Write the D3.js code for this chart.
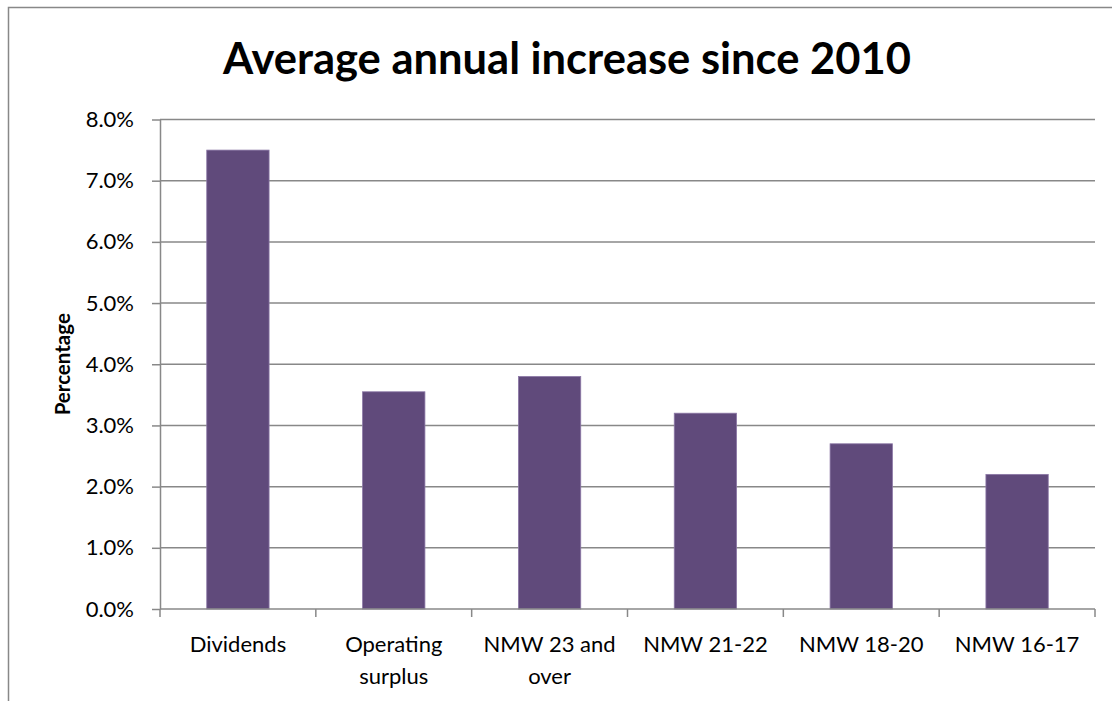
<!DOCTYPE html>
<html>
<head>
<meta charset="utf-8">
<script src="https://cdn.jsdelivr.net/npm/d3@7"></script>
<style>
  html, body { margin: 0; padding: 0; background: #fff; }
  svg { display: block; }
</style>
</head>
<body>
<svg id="chart" width="1112" height="701"></svg>
<script>
const categories = ["Dividends", "Operating surplus", "NMW 23 and over", "NMW 21-22", "NMW 18-20", "NMW 16-17"];
const categoryLines = [["Dividends"], ["Operating", "surplus"], ["NMW 23 and", "over"], ["NMW 21-22"], ["NMW 18-20"], ["NMW 16-17"]];
const values = [7.5, 3.55, 3.8, 3.2, 2.7, 2.2];
const yTicks = [0, 1, 2, 3, 4, 5, 6, 7, 8];
const titleText = "Average annual increase since 2010";
const yAxisTitle = "Percentage";

const font = "Lato, 'Open Sans', 'Noto Sans', sans-serif";
const svg = d3.select("#chart");
const plot = { left: 160, right: 1095, top: 119.5, bottom: 609 };
const gridColor = "#888888";

// outer chart frame
svg.append("rect")
  .attr("x", 8.5).attr("y", 7.5)
  .attr("width", 1200).attr("height", 800)
  .attr("fill", "none").attr("stroke", gridColor).attr("stroke-width", 1.5);

const x = d3.scaleBand().domain(categories).range([plot.left, plot.right]).paddingInner(0).paddingOuter(0);
const y = d3.scaleLinear().domain([0, 8]).range([plot.bottom, plot.top]);

// horizontal gridlines
svg.append("g").selectAll("line").data(yTicks.filter(d => d > 0)).join("line")
  .attr("x1", plot.left).attr("x2", plot.right)
  .attr("y1", d => y(d)).attr("y2", d => y(d))
  .attr("stroke", gridColor).attr("stroke-width", 1.5);

// bars
const barW = x.bandwidth() * 0.4;
svg.append("g").selectAll("rect").data(values).join("rect")
  .attr("x", (d, i) => x(categories[i]) + (x.bandwidth() - barW) / 2)
  .attr("width", barW)
  .attr("y", d => y(d))
  .attr("height", d => y(0) - y(d))
  .attr("fill", "#604A7B")
  .attr("stroke", "#8C78A6").attr("stroke-width", 0.8);

// y axis
const yAxis = d3.axisLeft(y).tickValues(yTicks).tickFormat(d => d.toFixed(1) + "%").tickSize(8).tickSizeOuter(0).tickPadding(18);
const gy = svg.append("g").attr("transform", `translate(${plot.left},0)`).call(yAxis);
gy.select(".domain").attr("stroke", gridColor).attr("stroke-width", 1.5);
gy.selectAll(".tick line").attr("stroke", gridColor).attr("stroke-width", 1.5);
gy.selectAll(".tick text").attr("font-family", font).attr("font-size", 22).attr("fill", "#000");

// x axis
svg.append("line")
  .attr("x1", plot.left).attr("x2", plot.right)
  .attr("y1", plot.bottom).attr("y2", plot.bottom)
  .attr("stroke", gridColor).attr("stroke-width", 1.5);
const boundaries = categories.map(c => x(c)).concat([plot.right]);
svg.append("g").selectAll("line").data(boundaries).join("line")
  .attr("x1", d => d).attr("x2", d => d)
  .attr("y1", plot.bottom).attr("y2", plot.bottom + 8)
  .attr("stroke", gridColor).attr("stroke-width", 1.5);

const xl = svg.append("g").selectAll("text").data(categoryLines).join("text")
  .attr("x", (d, i) => x(categories[i]) + x.bandwidth() / 2)
  .attr("y", 652)
  .attr("text-anchor", "middle")
  .attr("font-family", font).attr("font-size", 22).attr("fill", "#000");
xl.selectAll("tspan").data(d => d).join("tspan")
  .attr("x", function () { return this.parentNode.getAttribute("x"); })
  .attr("dy", (d, i) => i === 0 ? 0 : 32)
  .text(d => d);

// axis title
svg.append("text")
  .attr("transform", `translate(70,${(plot.top + plot.bottom) / 2}) rotate(-90)`)
  .attr("text-anchor", "middle")
  .attr("font-family", font).attr("font-size", 20.5).attr("font-weight", "bold")
  .text(yAxisTitle);

// chart title
svg.append("text")
  .attr("x", 567).attr("y", 74)
  .attr("text-anchor", "middle")
  .attr("font-family", font).attr("font-size", 43.5).attr("font-weight", "bold")
  .text(titleText);
</script>
</body>
</html>
